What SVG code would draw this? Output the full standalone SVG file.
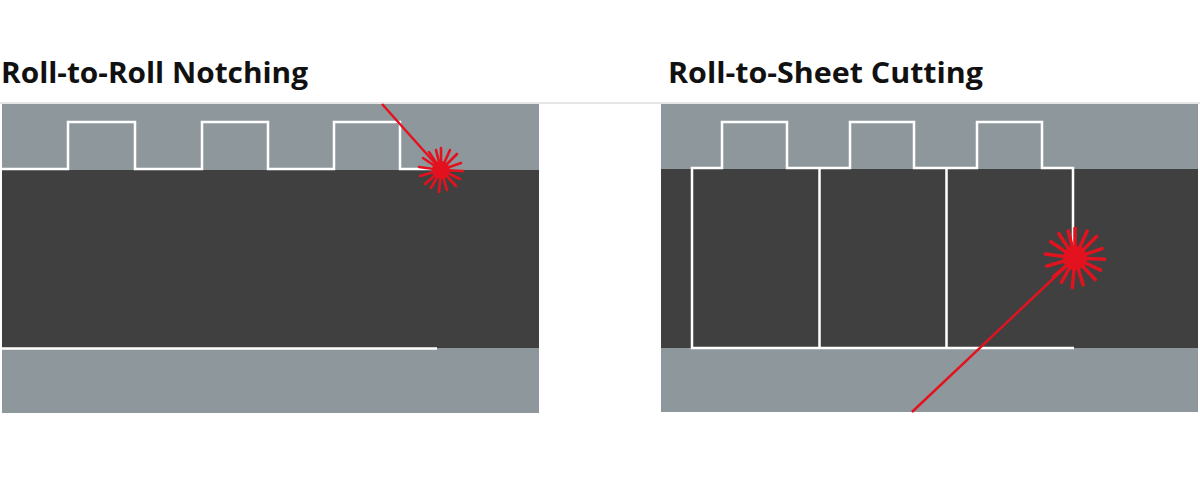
<svg xmlns="http://www.w3.org/2000/svg" xmlns:xlink="http://www.w3.org/1999/xlink" width="1200" height="500" viewBox="0 0 1200 500">
<style>
.title{font-family:"Open Sans","Noto Sans","Liberation Sans",sans-serif;font-weight:700;font-size:28px;fill:#111}
.light{fill:#8e989c}
.dark{fill:#404040}
.cut{fill:none;stroke:#ffffff;stroke-width:2.5;stroke-linejoin:miter}
.beam{stroke:#e3121f;stroke-width:2.5;fill:none}
.ray{stroke:#e3121f;stroke-width:2.6;stroke-linecap:round}
</style>
<defs>
<g id="spark">
<circle r="9" fill="#e3121f"/>
<g class="ray">
<line x1="0" y1="0" x2="0" y2="-22"/>
<line x1="0" y1="0" x2="9" y2="-20"/>
<line x1="0" y1="0" x2="16" y2="-16"/>
<line x1="0" y1="0" x2="20" y2="-7"/>
<line x1="0" y1="0" x2="22" y2="1"/>
<line x1="0" y1="0" x2="19" y2="9"/>
<line x1="0" y1="0" x2="15" y2="16"/>
<line x1="0" y1="0" x2="6" y2="20"/>
<line x1="0" y1="0" x2="-2" y2="22"/>
<line x1="0" y1="0" x2="-10" y2="18"/>
<line x1="0" y1="0" x2="-16" y2="14"/>
<line x1="0" y1="0" x2="-21" y2="6"/>
<line x1="0" y1="0" x2="-22" y2="-3"/>
<line x1="0" y1="0" x2="-18" y2="-12"/>
<line x1="0" y1="0" x2="-12" y2="-18"/>
<line x1="0" y1="0" x2="-5" y2="-20"/>
</g>
</g>
</defs>
<rect width="1200" height="500" fill="#ffffff"/>
<line x1="0" y1="103" x2="1200" y2="103" stroke="#e6e6e6" stroke-width="2"/>

<g id="title-left"><text class="title" x="1" y="83" textLength="307" lengthAdjust="spacingAndGlyphs">Roll-to-Roll Notching</text></g>
<g id="title-right"><text class="title" x="668" y="83" textLength="315" lengthAdjust="spacingAndGlyphs">Roll-to-Sheet Cutting</text></g>

<g id="panel-left">
<rect class="light" x="2" y="104" width="537" height="66"/>
<rect class="dark" x="2" y="170" width="537" height="178"/>
<rect class="light" x="2" y="348" width="537" height="65"/>
<path class="cut" d="M2 169 H68 V122 H135 V169 H202 V122 H268 V169 H334 V122 H400 V169 H432"/>
<line class="cut" x1="2" y1="348.5" x2="437" y2="348.5"/>
</g>

<g id="panel-right">
<rect class="light" x="661" y="104" width="537" height="65"/>
<rect class="dark" x="661" y="169" width="537" height="179"/>
<rect class="light" x="661" y="348" width="537" height="64"/>
<path class="cut" d="M1073 250 V168 H1042 V122 H977 V168 H914 V122 H850 V168 H787 V122 H722 V168 H692 V348 H1074"/>
<line class="cut" x1="819.5" y1="168" x2="819.5" y2="348"/>
<line class="cut" x1="946.5" y1="168" x2="946.5" y2="348"/>
</g>

<g id="connectors">
<line class="beam" x1="382" y1="104" x2="441" y2="170"/>
<line class="beam" x1="912" y1="412" x2="1075" y2="258"/>
</g>

<g id="laser-left"><use xlink:href="#spark" transform="translate(441 170)"/></g>
<g id="laser-right"><use xlink:href="#spark" transform="translate(1075 258) scale(1.35)"/></g>
</svg>
